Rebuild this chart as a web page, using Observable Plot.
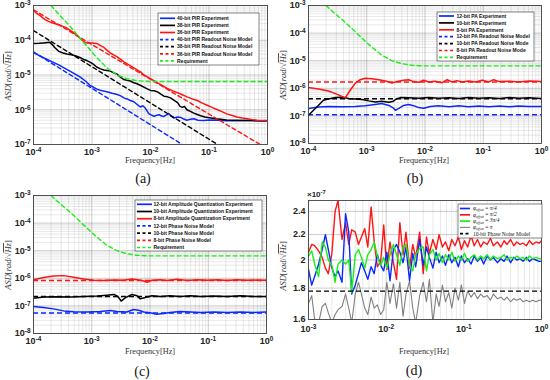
<!DOCTYPE html>
<html><head><meta charset="utf-8">
<script src="https://cdn.jsdelivr.net/npm/d3@7"></script>
<script src="https://cdn.jsdelivr.net/npm/@observablehq/plot@0.6"></script>
<style>
body{margin:0;background:#fff;}
#wrap{position:relative;width:550px;height:380px;overflow:hidden;background:#fff;}
#wrap svg{position:absolute;}
</style></head><body><div id="wrap"></div>
<script>
// ---------------- DATA ----------------
const xTicksABC = [1e-4, 1e-3, 1e-2, 1e-1, 1];
const yTicksA = [1e-7, 1e-6, 1e-5, 1e-4, 1e-3];
const yTicksBC = [1e-8, 1e-7, 1e-6, 1e-5, 1e-4, 1e-3];
const xTicksD = [1e-3, 1e-2, 1e-1, 1];
const yTicksD = [1.6, 1.8, 2, 2.2, 2.4];

// Requirement (shared by a, b, c)
const requirement = [[2.0e-4,1e-3],[2.7e-4,5.6e-4],[3.7e-4,3.2e-4],[5e-4,1.8e-4],[6.7e-4,1e-4],[9e-4,5.6e-5],[1.2e-3,3.2e-5],[1.8e-3,1.6e-5],[2.7e-3,1e-5],[4e-3,7.8e-6],[6e-3,6.8e-6],[8e-3,6.6e-6],[1e-2,6.5e-6],[1,6.5e-6]];

// (a) PIR
const a40Exp = [[1e-4,4.4e-5],[1.4e-4,3.3e-5],[1.93e-4,2.55e-5],[2.7e-4,1.95e-5],[3.7e-4,1.46e-5],[5e-4,1.1e-5],[6.3e-4,8.7e-6],[7.8e-4,6.6e-6],[9.4e-4,4.9e-6],[1.05e-3,4.5e-6],[1.22e-3,3.9e-6],[1.5e-3,3.5e-6],[1.8e-3,3.3e-6],[2.2e-3,3e-6],[2.7e-3,2.75e-6],[3.1e-3,2.5e-6],[3.5e-3,2.2e-6],[4e-3,2.05e-6],[4.5e-3,1.85e-6],[5.2e-3,1.7e-6],[5.9e-3,1.42e-6],[6.7e-3,1.2e-6],[7.4e-3,1.3e-6],[8.2e-3,1.1e-6],[9.4e-3,7.6e-7],[1.05e-2,7e-7],[1.14e-2,6.5e-7],[1.25e-2,6.8e-7],[1.4e-2,7.2e-7],[1.55e-2,6.6e-7],[1.7e-2,6.4e-7],[1.85e-2,7e-7],[2.05e-2,7.8e-7],[2.25e-2,6.5e-7],[2.5e-2,5.8e-7],[2.9e-2,6.2e-7],[3.3e-2,6e-7],[3.7e-2,5.4e-7],[4.2e-2,5e-7],[4.8e-2,5.3e-7],[5.5e-2,5.5e-7],[6.5e-2,5e-7],[8.2e-2,4.9e-7],[0.1,5.1e-7],[0.14,5e-7],[0.2,4.85e-7],[0.27,4.8e-7],[0.4,4.9e-7],[0.6,4.9e-7],[0.8,4.75e-7],[1,4.8e-7]];
const a38Exp = [[1e-4,8.1e-5],[1.25e-4,8.2e-5],[1.5e-4,8.4e-5],[1.9e-4,8.7e-5],[2.1e-4,7.5e-5],[2.3e-4,6.2e-5],[2.7e-4,4.8e-5],[3.2e-4,4.3e-5],[3.7e-4,4e-5],[4.4e-4,3.8e-5],[5.2e-4,3.6e-5],[6.2e-4,3.2e-5],[7.2e-4,2.8e-5],[8.2e-4,2.6e-5],[9.4e-4,2.3e-5],[1.05e-3,2.05e-5],[1.2e-3,1.7e-5],[1.4e-3,1.5e-5],[1.6e-3,1.4e-5],[1.8e-3,1.35e-5],[2.05e-3,1.3e-5],[2.35e-3,1.15e-5],[2.7e-3,1.05e-5],[3.1e-3,8.5e-6],[3.5e-3,7.4e-6],[4e-3,7e-6],[4.5e-3,6.7e-6],[5.2e-3,6e-6],[5.9e-3,5.6e-6],[6.8e-3,5e-6],[7.7e-3,4.5e-6],[8.8e-3,4e-6],[1e-2,3.6e-6],[1.15e-2,3.5e-6],[1.3e-2,3.3e-6],[1.5e-2,2.8e-6],[1.7e-2,2.45e-6],[1.95e-2,2.35e-6],[2.2e-2,2.2e-6],[2.5e-2,1.9e-6],[2.9e-2,1.6e-6],[3.2e-2,1.25e-6],[3.5e-2,1.17e-6],[3.8e-2,1.25e-6],[4.2e-2,1e-6],[4.8e-2,9e-7],[5.5e-2,8e-7],[6.3e-2,7.3e-7],[7.2e-2,6.7e-7],[8.5e-2,6.2e-7],[0.107,5.8e-7],[0.13,5.5e-7],[0.16,5.3e-7],[0.2,5.1e-7],[0.27,5e-7],[0.38,4.9e-7],[0.52,4.9e-7],[0.7,4.8e-7],[1,4.8e-7]];
const a36Exp = [[1e-4,7.2e-4],[1.15e-4,5.8e-4],[1.3e-4,5.1e-4],[1.55e-4,4e-4],[1.8e-4,3.5e-4],[2.2e-4,3.1e-4],[2.7e-4,2.8e-4],[3.2e-4,2.5e-4],[3.7e-4,2.25e-4],[4.4e-4,1.85e-4],[5.2e-4,1.5e-4],[6e-4,1.2e-4],[6.7e-4,1.03e-4],[7.4e-4,9e-5],[8.2e-4,8.3e-5],[1e-3,8.4e-5],[1.2e-3,8.1e-5],[1.4e-3,7e-5],[1.6e-3,6.2e-5],[1.8e-3,5.2e-5],[2.05e-3,4.3e-5],[2.35e-3,3.8e-5],[2.7e-3,3.3e-5],[3.1e-3,2.8e-5],[3.5e-3,2.4e-5],[4.2e-3,2e-5],[5.2e-3,1.6e-5],[5.9e-3,1.4e-5],[6.7e-3,1.25e-5],[7.7e-3,1e-5],[8.8e-3,8.8e-6],[1.05e-2,7.5e-6],[1.3e-2,6e-6],[1.55e-2,5.1e-6],[1.93e-2,4.1e-6],[2.4e-2,3.5e-6],[2.9e-2,3.1e-6],[3.5e-2,2.7e-6],[4.2e-2,2.35e-6],[5.2e-2,2.05e-6],[6.3e-2,1.85e-6],[7.7e-2,1.55e-6],[9.3e-2,1.35e-6],[0.115,1.15e-6],[0.14,1e-6],[0.17,8.7e-7],[0.2,7.6e-7],[0.25,6.8e-7],[0.3,6.2e-7],[0.37,5.8e-7],[0.45,5.5e-7],[0.55,5.2e-7],[0.66,5e-7],[0.8,4.9e-7],[1,4.9e-7]];
const a40Model = [[1e-4,4.6e-5],[0.035,1e-7]];
const a38Model = [[1e-4,1.9e-4],[0.14,1e-7]];
const a36Model = [[1e-4,7.5e-4],[0.75,1e-7]];

// (b) PA
const b12Exp = [[1e-4,1.84e-7],[1.49e-4,2.1e-7],[2.2e-4,2.2e-7],[3.75e-4,2.15e-7],[6.3e-4,2.2e-7],[9.4e-4,2.35e-7],[1.4e-3,2.6e-7],[1.8e-3,2.8e-7],[2.4e-3,2.4e-7],[2.8e-3,2e-7],[3.1e-3,1.6e-7],[3.5e-3,1.84e-7],[4.3e-3,2.4e-7],[5.2e-3,2.6e-7],[6.4e-3,2.35e-7],[7.8e-3,2e-7],[9.5e-3,1.9e-7],[1.24e-2,2.2e-7],[1.7e-2,2.35e-7],[2.6e-2,2.15e-7],[3.8e-2,2.35e-7],[5.6e-2,2.15e-7],[8.5e-2,2.3e-7],[0.125,2.15e-7],[0.19,2.3e-7],[0.28,2.15e-7],[0.41,2.3e-7],[0.61,2.2e-7],[1,2.2e-7]];
const b10Exp = [[1e-4,1.06e-7],[1.22e-4,1.6e-7],[1.49e-4,2.45e-7],[1.8e-4,3.7e-7],[2.2e-4,4.1e-7],[2.9e-4,4.6e-7],[3.75e-4,4.7e-7],[4.9e-4,4.3e-7],[6.3e-4,4.1e-7],[8.3e-4,3.9e-7],[1.08e-3,3.5e-7],[1.4e-3,3.2e-7],[1.8e-3,3.4e-7],[2.4e-3,3.1e-7],[2.8e-3,3.3e-7],[3.2e-3,4.1e-7],[3.8e-3,4.6e-7],[5.2e-3,4.5e-7],[7.8e-3,4.4e-7],[1.16e-2,4.6e-7],[1.7e-2,4.4e-7],[2.6e-2,4.5e-7],[3.8e-2,4.3e-7],[5.6e-2,4.6e-7],[8.5e-2,4.4e-7],[0.125,4.5e-7],[0.19,4.3e-7],[0.28,4.6e-7],[0.41,4.4e-7],[0.61,4.5e-7],[1,4.3e-7]];
const b8Exp = [[1e-4,1.06e-6],[1.49e-4,9.5e-7],[2.2e-4,8e-7],[2.9e-4,6.4e-7],[3.75e-4,5.1e-7],[4.3e-4,4.6e-7],[5.2e-4,8.5e-7],[6.3e-4,1.5e-6],[7.7e-4,2.05e-6],[9.4e-4,2.3e-6],[1.23e-3,2.2e-6],[1.6e-3,2.05e-6],[2.1e-3,1.85e-6],[2.7e-3,1.55e-6],[3.1e-3,1.7e-6],[3.5e-3,1.8e-6],[4.3e-3,1.95e-6],[5.2e-3,2.05e-6],[6.4e-3,1.75e-6],[7.8e-3,1.65e-6],[9.5e-3,1.95e-6],[1.16e-2,1.7e-6],[1.5e-2,1.8e-6],[1.97e-2,1.6e-6],[2.4e-2,2.05e-6],[2.9e-2,1.7e-6],[3.5e-2,1.9e-6],[4.4e-2,1.7e-6],[5.6e-2,1.85e-6],[7.4e-2,1.7e-6],[9.6e-2,1.95e-6],[0.125,1.7e-6],[0.15,2.05e-6],[0.19,1.75e-6],[0.28,1.8e-6],[0.41,1.7e-6],[0.61,1.85e-6],[1,1.75e-6]];
const b12Model = 1.1e-7, b10Model = 4.2e-7, b8Model = 1.7e-6;

// (c) Amplitude quantization
const c12Exp = [[1e-4,9.5e-8],[1.49e-4,8.8e-8],[2.2e-4,7.8e-8],[3.3e-4,6.6e-8],[4.9e-4,6.2e-8],[8.3e-4,6e-8],[1.4e-3,6.3e-8],[2.1e-3,6.8e-8],[2.7e-3,6.3e-8],[4e-3,6e-8],[5.2e-3,7.4e-8],[6.4e-3,7e-8],[7.8e-3,6e-8],[1e-2,5.6e-8],[1.3e-2,5e-8],[1.7e-2,5.3e-8],[2.2e-2,5.8e-8],[3.3e-2,6.3e-8],[5e-2,6e-8],[7.4e-2,5.8e-8],[0.125,6e-8],[0.21,5.8e-8],[0.36,6e-8],[0.61,5.8e-8],[1,6e-8]];
const c10Exp = [[1e-4,1.9e-7],[1.49e-4,2.1e-7],[2.5e-4,2.15e-7],[4.3e-4,2.1e-7],[7.2e-4,2.2e-7],[1.23e-3,2.3e-7],[1.8e-3,2.45e-7],[2.4e-3,2.6e-7],[2.8e-3,2.2e-7],[3.2e-3,1.5e-7],[3.8e-3,2e-7],[4.9e-3,2.6e-7],[6e-3,2.35e-7],[6.8e-3,1.8e-7],[8.3e-3,2e-7],[1.08e-2,2.35e-7],[1.5e-2,2.2e-7],[2.2e-2,2.35e-7],[3.3e-2,2.2e-7],[5e-2,2.35e-7],[7.4e-2,2.2e-7],[0.125,2.3e-7],[0.21,2.2e-7],[0.36,2.35e-7],[0.61,2.2e-7],[1,2.2e-7]];
const c8Exp = [[1e-4,8.9e-7],[1.49e-4,1.06e-6],[2.2e-4,1.2e-6],[3.3e-4,1.25e-6],[4.9e-4,1.1e-6],[7.2e-4,9.5e-7],[1.08e-3,8.5e-7],[1.6e-3,8.3e-7],[2.4e-3,8.6e-7],[3.5e-3,8.5e-7],[4.9e-3,9.5e-7],[6e-3,8.9e-7],[7.3e-3,8.3e-7],[8.9e-3,7.2e-7],[1.08e-2,8.5e-7],[1.5e-2,8.9e-7],[1.97e-2,8.3e-7],[2.9e-2,9.2e-7],[4.4e-2,8.3e-7],[6.5e-2,8.9e-7],[9.6e-2,8.5e-7],[0.144,8.9e-7],[0.21,8.3e-7],[0.31,8.9e-7],[0.46,8.5e-7],[0.69,8.6e-7],[1,8.5e-7]];
const c12Model = 5.5e-8, c10Model = 2.2e-7, c8Model = 8.3e-7;

// (d) phase offsets, ASD in units of 1e-7
const dFreq = [0.001,0.0011,0.0012,0.00135,0.0015,0.00165,0.0018,0.002,0.0022,0.0024,0.0027,0.003,0.0033,0.0036,0.004,0.0044,0.0048,0.0053,0.0058,0.0064,0.007,0.0077,0.0085,0.0093,0.0102,0.0112,0.0124,0.0136,0.015,0.0165,0.018,0.02,0.022,0.024,0.027,0.03,0.033,0.036,0.04,0.044,0.048,0.053,0.058,0.064,0.07,0.077,0.085,0.093,0.102,0.112,0.124,0.136,0.15,0.165,0.18,0.2,0.22,0.24,0.27,0.3,0.33,0.36,0.4,0.44,0.48,0.53,0.58,0.64,0.7,0.77,0.85,0.93,1.0];
const dQuarter = [1.93,1.82,1.88,1.97,2.08,2.20,2.08,1.94,1.88,1.92,1.84,2.38,2.22,1.76,1.82,1.90,1.98,1.92,1.86,1.95,1.90,2.04,1.96,1.92,2.06,1.85,2.08,2.12,2.06,1.98,2.10,1.85,2.05,1.95,2.16,1.96,2.10,2.02,1.94,2.06,1.98,2.03,1.96,2.04,1.98,2.02,1.95,2.03,1.98,2.01,1.97,2.03,1.99,2.02,1.97,2.03,2.00,2.02,1.98,2.01,1.99,2.03,1.98,2.02,2.00,2.01,1.99,2.02,1.99,2.01,2.00,1.99,1.99];
const dHalf = [2.06,2.12,2.11,2.07,2.02,1.94,1.90,2.05,2.40,2.50,2.16,2.30,2.12,2.24,2.22,2.12,2.18,2.25,2.10,2.44,2.15,1.95,1.99,2.28,1.93,2.14,1.98,1.86,2.30,2.04,2.22,1.94,2.12,2.02,2.22,1.90,2.18,2.05,2.16,2.08,2.20,2.10,2.14,2.07,2.16,2.11,2.18,2.08,2.15,2.10,2.19,2.11,2.16,2.10,2.14,2.12,2.17,2.11,2.14,2.10,2.15,2.12,2.16,2.11,2.14,2.12,2.13,2.11,2.15,2.12,2.14,2.13,2.15];
const dThreeQuarter = [2.03,2.07,1.97,1.88,2.14,2.10,2.00,1.96,1.84,1.97,2.00,1.97,2.00,1.77,2.04,2.08,2.02,1.94,2.04,2.08,2.14,2.03,1.96,2.02,1.94,2.04,2.12,2.04,1.96,2.10,2.12,1.96,1.92,2.04,2.09,2.10,1.92,2.04,2.08,2.00,2.05,1.98,2.04,2.00,2.06,1.99,2.03,2.00,2.05,1.99,2.02,2.04,2.00,2.03,2.01,2.04,2.00,2.03,2.01,2.02,2.04,2.00,2.02,2.01,2.03,2.01,2.02,2.00,2.03,2.01,2.02,2.01,2.01];
const dPi = [1.70,1.75,1.60,1.58,1.68,1.70,1.64,1.58,1.63,1.66,1.68,1.76,1.67,1.58,1.76,1.84,1.76,1.67,1.63,1.74,1.67,1.69,1.63,1.66,1.84,1.70,1.83,1.67,1.84,1.62,1.76,1.85,1.67,1.58,1.75,1.84,1.71,1.86,1.58,1.76,1.68,1.82,1.71,1.77,1.67,1.80,1.72,1.82,1.70,1.78,1.74,1.77,1.73,1.76,1.74,1.75,1.72,1.76,1.73,1.74,1.72,1.74,1.71,1.73,1.72,1.73,1.71,1.72,1.71,1.72,1.71,1.72,1.72];
const d10Model = 1.78;

// ---------------- STYLE ----------------
const BLUE = "#0a28ff", RED = "#ff1414", BLACK = "#000", GREEN = "#18ee18", GRAY = "#808080";
const SANS = "'Liberation Sans', Arial, Helvetica, sans-serif";
const SERIF = "'Liberation Serif', 'Times New Roman', serif";
const DASH = "4,3";

function minorTicks(lo, hi) {
  const out = [];
  for (let e = Math.round(Math.log10(lo)); e < Math.round(Math.log10(hi)); e++)
    for (let k = 2; k <= 9; k++) out.push(k * Math.pow(10, e));
  return out;
}
const powFmt = d => "10^" + Math.round(Math.log10(d));

function supify(svg) {
  svg.querySelectorAll("text").forEach(t => {
    const s = t.textContent;
    if (!s.includes("^")) return;
    const [b, e] = s.split("^");
    while (t.firstChild) t.removeChild(t.firstChild);
    const ns = "http://www.w3.org/2000/svg";
    const t1 = document.createElementNS(ns, "tspan"); t1.textContent = b; t.appendChild(t1);
    const t2 = document.createElementNS(ns, "tspan"); t2.textContent = e;
    t2.setAttribute("dy", "-0.45em"); t2.setAttribute("font-size", "72%"); t.appendChild(t2);
  });
}

const wrap = document.getElementById("wrap");

function line(data, color, dashed, w) {
  return Plot.line(data, {x: d => d[0], y: d => d[1], stroke: color, strokeWidth: w || (dashed ? 1.4 : 1.5),
    strokeDasharray: dashed ? DASH : null, clip: true});
}
function hline(v, color) {
  return Plot.ruleY([v], {stroke: color, strokeWidth: 1.5, strokeDasharray: "5,3"});
}

function panel(o) {
  const svg = Plot.plot({
    width: 275, height: 190,
    marginLeft: o.ml, marginRight: o.mr, marginTop: o.mt, marginBottom: o.mb,
    style: {background: "transparent", fontFamily: SANS, fontSize: "9px", fontWeight: "bold", color: "#222"},
    x: {type: "log", domain: o.xd, ticks: o.xt, tickFormat: powFmt, tickSize: 0, tickPadding: o.xpad || 4, label: null},
    y: {type: "log", domain: o.yd, ticks: o.yt, tickFormat: o.yf || powFmt, tickSize: 0, tickPadding: 3, label: null},
    marks: [
      Plot.ruleX(o.xMinor, {stroke: "#000", strokeOpacity: 0.09}),
      Plot.ruleY(o.yMinor || [], {stroke: "#000", strokeOpacity: 0.09}),
      Plot.ruleX(o.xt, {stroke: "#000", strokeOpacity: 0.2}),
      Plot.ruleY(o.yt, {stroke: "#000", strokeOpacity: 0.2}),
      ...o.marks,
      Plot.frame({stroke: "#444", strokeWidth: 0.9})
    ]
  });
  supify(svg);
  svg.style.left = o.left + "px";
  svg.style.top = o.top + "px";
  wrap.appendChild(svg);
}

// (a)
panel({left: 0, top: 0, ml: 33, mr: 8, mt: 5, mb: 46,
  xd: [1e-4, 1], yd: [1e-7, 1e-3], xt: xTicksABC, yt: yTicksA,
  xMinor: minorTicks(1e-4, 1), yMinor: minorTicks(1e-7, 1e-3),
  marks: [
    line(a40Exp, BLUE), line(a38Exp, BLACK), line(a36Exp, RED),
    line(a40Model, BLUE, true), line(a38Model, BLACK, true), line(a36Model, RED, true),
    line(requirement, GREEN, true)
  ]});
// (b)
panel({left: 275, top: 0, ml: 33, mr: 9, mt: 5, mb: 47,
  xd: [1e-4, 1], yd: [1e-8, 1e-3], xt: xTicksABC, yt: yTicksBC,
  xMinor: minorTicks(1e-4, 1), yMinor: minorTicks(1e-8, 1e-3),
  marks: [
    hline(b12Model, BLUE), hline(b10Model, BLACK), hline(b8Model, RED),
    line(b12Exp, BLUE), line(b10Exp, BLACK), line(b8Exp, RED),
    line(requirement, GREEN, true)
  ]});
// (c)
panel({left: 0, top: 190, ml: 33, mr: 9, mt: 5, mb: 47,
  xd: [1e-4, 1], yd: [1e-8, 1e-3], xt: xTicksABC, yt: yTicksBC,
  xMinor: minorTicks(1e-4, 1), yMinor: minorTicks(1e-8, 1e-3),
  marks: [
    hline(c12Model, BLUE), hline(c10Model, BLACK), hline(c8Model, RED),
    line(c12Exp, BLUE), line(c10Exp, BLACK), line(c8Exp, RED),
    line(requirement, GREEN, true)
  ]});
// (d)
const dLine = (vals, color, w) => Plot.line(vals, {x: (d, i) => dFreq[i], y: d => d, stroke: color, strokeWidth: w, clip: true});
panel({left: 275, top: 190, ml: 33, mr: 9, mt: 10, mb: 61, xpad: 6,
  xd: [1e-3, 1], yd: [1.6, 2.5], xt: xTicksD, yt: yTicksD,
  yf: d => (d === 2 ? "2" : d.toFixed(1)),
  xMinor: minorTicks(1e-3, 1), yMinor: [],
  marks: [
    dLine(dPi, GRAY, 1.1),
    dLine(dHalf, RED, 1.4),
    dLine(dQuarter, BLUE, 1.4),
    dLine(dThreeQuarter, GREEN, 1.4),
    Plot.ruleY([d10Model], {stroke: BLACK, strokeWidth: 1.2, strokeDasharray: "5,3"})
  ]});

// ---------------- OVERLAY: labels & legends ----------------
const ov = d3.select(wrap).append("svg").attr("width", 550).attr("height", 380)
  .style("left", "0px").style("top", "0px").style("pointer-events", "none");

function yLabel(cx, cy) {
  const t = ov.append("text").attr("transform", `translate(${cx},${cy}) rotate(-90)`)
    .attr("text-anchor", "middle").attr("dy", "0.35em")
    .attr("font-family", SERIF).attr("font-size", 8.5).attr("fill", "#333");
  t.append("tspan").attr("font-style", "italic").text("ASD");
  t.append("tspan").text("[");
  t.append("tspan").attr("font-style", "italic").text("rad");
  t.append("tspan").text("/\u221A");
  t.append("tspan").attr("font-style", "italic").style("text-decoration", "overline").text("Hz");
  t.append("tspan").text("]");
}
function xLabel(cx, y) {
  ov.append("text").attr("x", cx).attr("y", y).attr("text-anchor", "middle")
    .attr("font-family", SERIF).attr("font-size", 8.3).attr("fill", "#333").text("Frequency[Hz]");
}
function tag(cx, y, s) {
  ov.append("text").attr("x", cx).attr("y", y).attr("text-anchor", "middle")
    .attr("font-family", SERIF).attr("font-size", 14).attr("fill", "#111").text(s);
}
yLabel(8, 76); yLabel(283, 75); yLabel(8, 265); yLabel(283, 266);
xLabel(150, 163); xLabel(424, 163); xLabel(150, 354); xLabel(424, 354);
tag(143, 183, "(a)"); tag(415, 183, "(b)"); tag(142, 376, "(c)"); tag(414, 375, "(d)");

// ×10^-7 multiplier for (d)
{
  const t = ov.append("text").attr("x", 307).attr("y", 197).attr("font-family", SANS)
    .attr("font-weight", "bold").attr("font-size", 8).attr("fill", "#222");
  t.append("tspan").text("\u00D710");
  t.append("tspan").attr("dy", "-0.45em").attr("font-size", "72%").text("-7");
}

function legend(box, entries, o) {
  const g = ov.append("g");
  g.append("rect").attr("x", box[0]).attr("y", box[1]).attr("width", box[2]).attr("height", box[3])
    .attr("fill", "#fff").attr("stroke", "#333").attr("stroke-width", 0.6);
  entries.forEach((e, i) => {
    const y = box[1] + o.first + i * o.step;
    g.append("line").attr("x1", box[0] + o.s0).attr("x2", box[0] + o.s1).attr("y1", y).attr("y2", y)
      .attr("stroke", e.c).attr("stroke-width", e.w || 1.7).attr("stroke-dasharray", e.d ? "3,2.5" : null);
    const t = g.append("text").attr("x", box[0] + o.tx).attr("y", y).attr("dy", "0.35em")
      .attr("font-family", o.font).attr("font-size", o.size).attr("font-weight", o.weight).attr("fill", "#111");
    if (e.phi) {
      t.append("tspan").attr("font-style", "italic").text("\u03C6");
      t.append("tspan").attr("font-style", "italic").attr("font-size", "65%").attr("dy", "0.3em").text("offset");
      t.append("tspan").attr("dy", "-0.3em").text(" = ");
      t.append("tspan").attr("font-style", "italic").text(e.phi);
    } else t.text(e.t);
  });
}
const legA = {first: 5.3, step: 7.1, s0: 2, s1: 17, tx: 19, font: SANS, size: 5, weight: "bold"};
legend([158, 13, 101, 52], [
  {t: "40-bit PIR Experiment", c: BLUE}, {t: "38-bit PIR Experiment", c: BLACK}, {t: "36-bit PIR Experiment", c: RED},
  {t: "40-bit PIR Readout Noise Model", c: BLUE, d: 1}, {t: "38-bit PIR Readout Noise Model", c: BLACK, d: 1},
  {t: "36-bit PIR Readout Noise Model", c: RED, d: 1}, {t: "Requirement", c: GREEN, d: 1}], legA);
legend([437, 12, 97, 49], [
  {t: "12-bit PA Experiment", c: BLUE}, {t: "10-bit PA Experiment", c: BLACK}, {t: "8-bit PA Experiment", c: RED},
  {t: "12-bit PA Readout Noise Model", c: BLUE, d: 1}, {t: "10-bit PA Readout Noise Mode", c: BLACK, d: 1},
  {t: "8-bit PA Readout Noise Mode", c: RED, d: 1}, {t: "Requirement", c: GREEN, d: 1}],
  {first: 4, step: 6.9, s0: 2, s1: 17, tx: 19.5, font: SANS, size: 5, weight: "bold"});
legend([135, 200, 127, 51], [
  {t: "12-bit Amplitude Quantization Experiment", c: BLUE}, {t: "10-bit Amplitude Quantization Experiment", c: BLACK},
  {t: "8-bit Amplitude Quantization Experiment", c: RED}, {t: "12-bit Phase Noise Model", c: BLUE, d: 1},
  {t: "10-bit Phase Noise Model", c: BLACK, d: 1}, {t: "8-bit Phase Noise Model", c: RED, d: 1},
  {t: "Requirement", c: GREEN, d: 1}],
  {first: 4.3, step: 7.2, s0: 2, s1: 17, tx: 18.5, font: SANS, size: 5, weight: "bold"});
legend([458, 204, 84, 34], [
  {phi: "\u03C0/4", c: BLUE}, {phi: "\u03C0/2", c: RED}, {phi: "3\u03C0/4", c: GREEN},
  {phi: "\u03C0", c: GRAY, w: 1.1}, {t: "10-bit Phase Noise Model", c: BLACK, d: 1}],
  {first: 4.5, step: 6.3, s0: 2, s1: 12, tx: 15, font: SERIF, size: 5.5, weight: "normal"});
</script></body></html>
